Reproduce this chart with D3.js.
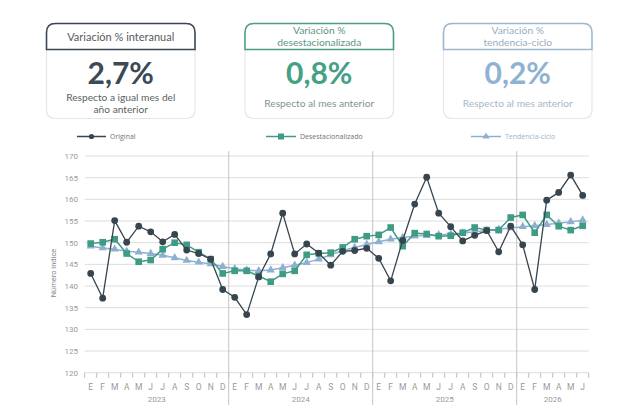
<!DOCTYPE html>
<html><head><meta charset="utf-8">
<script src="https://cdn.jsdelivr.net/npm/d3@7/dist/d3.min.js"></script>
<style>
html,body{margin:0;padding:0;background:#fff;}
svg{display:block;}
</style></head>
<body><svg id="c" width="637" height="418"></svg>
<script>
const monthLabels = ["E","F","M","A","M","J","J","A","S","O","N","D"];
const years = ["2023","2024","2025","2026"];
const monthsPerYear = [12,12,12,6];
const yTicks = [120,125,130,135,140,145,150,155,160,165,170];

const original = [142.9,137.2,155.1,150.1,153.8,152.5,150.2,151.9,148.3,147.5,146.2,139.2,
  137.4,133.4,142.1,147.4,156.8,147.4,149.7,147.6,144.8,148.0,148.2,148.7,
  146.4,141.2,150.5,158.9,165.1,156.8,153.7,150.4,151.7,152.8,147.9,153.8,
  149.5,139.2,159.8,161.6,165.6,160.9];
const desestacionalizado = [149.8,150.1,150.8,147.5,145.6,146.0,148.5,150.0,149.5,147.8,146.2,142.9,
  143.5,143.5,142.3,141.0,142.8,143.5,147.2,147.5,147.7,148.9,150.8,151.5,
  151.8,153.5,149.2,152.2,152.0,151.5,151.6,152.3,153.5,152.9,152.9,155.8,
  156.4,152.3,156.4,153.8,152.9,153.9];
const tendencia = [149.2,148.8,148.5,148.0,147.8,147.5,147.1,146.5,145.9,145.5,145.1,144.5,
  144.0,143.7,143.5,143.7,144.2,144.8,145.4,146.2,147.2,148.2,148.9,149.6,
  150.2,150.8,151.2,151.5,151.7,151.8,152.0,152.2,152.5,152.8,153.1,153.4,
  153.7,153.9,154.2,154.5,154.8,155.2];

const cards = [
  {title:["Variación % interanual"], value:"2,7%", sub:["Respecto a igual mes del","año anterior"]},
  {title:["Variación %","desestacionalizada"], value:"0,8%", sub:["Respecto al mes anterior"]},
  {title:["Variación %","tendencia-ciclo"], value:"0,2%", sub:["Respecto al mes anterior"]}
];
const legendNames = ["Original","Desestacionalizado","Tendencia-ciclo"];

(function(){
const svg = d3.select("#c");
const FONT = "Lato, sans-serif";
const LEGF = "'Open Sans', sans-serif";
const AX = "Roboto, sans-serif";

const idx = [];
const mLab = [];
monthsPerYear.forEach((n,yi)=>{ for(let m=0;m<n;m++){ idx.push(idx.length); mLab.push(monthLabels[m]); }});

const pL = 84.7, pR = 588.7, pT = 156, pB = 372.7;
const x = d3.scaleBand().domain(idx).range([pL,pR]).paddingInner(0).paddingOuter(0);
const y = d3.scaleLinear().domain([120,170]).range([pB,pT]);
const cx = i => x(i) + x.bandwidth()/2;

// ----- cards
const cardX = [46.5, 245, 443.5], cardW = 148.5, cardTop = 23.5, headBot = 49.5, cardBot = 118.5;
const colHead = ["#3b4651","#4b9d86","#9db7cd"];
const colTitle = ["#555b60","#5d9686","#98adc0"];
const colVal = ["#3c4956","#45a086","#8fb2d2"];
const colSub = ["#5a5f63","#7f948d","#a9b7c3"];
cards.forEach((c,k)=>{
  const g = svg.append("g");
  const x0 = cardX[k], x1 = x0+cardW, r=9, mid = x0+cardW/2;
  g.append("path").attr("d",
    `M${x0},${headBot} L${x0},${cardBot-r} Q${x0},${cardBot} ${x0+r},${cardBot} L${x1-r},${cardBot} Q${x1},${cardBot} ${x1},${cardBot-r} L${x1},${headBot}`)
    .attr("fill","none").attr("stroke","#e4e6e8").attr("stroke-width",1.2);
  g.append("path").attr("d",
    `M${x0},${headBot} L${x0},${cardTop+r} Q${x0},${cardTop} ${x0+r},${cardTop} L${x1-r},${cardTop} Q${x1},${cardTop} ${x1},${cardTop+r} L${x1},${headBot} Z`)
    .attr("fill","#fff").attr("stroke",colHead[k]).attr("stroke-width",1.6);
  const two = c.title.length===2;
  const tt = g.append("text").attr("text-anchor","middle").attr("font-family",FONT)
    .attr("font-size",two?10.3:11).attr("fill",colTitle[k])
    .attr("y", two ? 33.8 : 40.5);
  c.title.forEach((t,i)=>tt.append("tspan").attr("x",mid).attr("dy", i===0?0:12.5).text(t));
  g.append("text").attr("x",mid).attr("y",84).attr("text-anchor","middle")
    .attr("font-family",FONT).attr("font-weight",700).attr("font-size",30)
    .attr("fill",colVal[k]).text(c.value);
  const st = g.append("text").attr("text-anchor","middle").attr("font-family",FONT)
    .attr("font-size",10.2).attr("fill",colSub[k])
    .attr("y", c.sub.length===2 ? 100.6 : 106.5);
  c.sub.forEach((t,i)=>st.append("tspan").attr("x",mid).attr("dy", i===0?0:12.4).text(t));
});

// ----- grid
const seriesCol = ["#37454f","#3f9b84","#8eb0d0"];
svg.append("g").selectAll("line").data(yTicks).join("line")
  .attr("x1",pL).attr("x2",pR).attr("y1",d=>y(d)).attr("y2",d=>y(d))
  .attr("stroke","#dddddd").attr("stroke-width",1);
svg.append("g").selectAll("text").data(yTicks).join("text")
  .attr("x",78).attr("y",d=>y(d)+3).attr("text-anchor","end")
  .attr("font-family",AX).attr("font-size",8).attr("fill","#9a9a9a").text(d=>d);
svg.append("text").attr("transform","translate(56,273) rotate(-90)")
  .attr("text-anchor","middle").attr("font-family",AX).attr("font-size",7.5)
  .attr("fill","#8a8a8a").text("Número índice");

const bounds = idx.map(i=>x(i)).concat([pR]);
svg.append("g").selectAll("line").data(bounds).join("line")
  .attr("x1",d=>d).attr("x2",d=>d).attr("y1",pB).attr("y2",pB+5)
  .attr("stroke","#bdbdbd").attr("stroke-width",1);
let acc=0; const sepIdx=[]; const yearMid=[];
monthsPerYear.forEach((n,k)=>{ yearMid.push((x(acc)+ (acc+n<idx.length ? x(acc+n) : pR))/2); acc+=n; if(k<monthsPerYear.length-1) sepIdx.push(acc); });
svg.append("g").selectAll("line").data(sepIdx).join("line")
  .attr("x1",d=>x(d)).attr("x2",d=>x(d)).attr("y1",151).attr("y2",405)
  .attr("stroke","#c4c4c4").attr("stroke-width",1);
svg.append("g").selectAll("text").data(idx).join("text")
  .attr("x",d=>cx(d)).attr("y",390).attr("text-anchor","middle")
  .attr("font-family",AX).attr("font-size",8.5).attr("fill","#9a9a9a").text(d=>mLab[d]);
svg.append("g").selectAll("text").data(years).join("text")
  .attr("x",(d,i)=>yearMid[i]).attr("y",402).attr("text-anchor","middle")
  .attr("font-family",AX).attr("font-size",8).attr("fill","#9a9a9a").text(d=>d);

// ----- series
const line = d3.line().x((d,i)=>cx(i)).y(d=>y(d));
const tri = d3.symbol().type(d3.symbolTriangle).size(30);
const sq = d3.symbol().type(d3.symbolSquare).size(44);
svg.append("path").datum(tendencia).attr("d",line).attr("fill","none")
  .attr("stroke",seriesCol[2]).attr("stroke-width",1.5);
svg.append("g").selectAll("path").data(tendencia).join("path")
  .attr("d",tri).attr("transform",(d,i)=>`translate(${cx(i)},${y(d)})`).attr("fill",seriesCol[2]);
svg.append("path").datum(desestacionalizado).attr("d",line).attr("fill","none")
  .attr("stroke",seriesCol[1]).attr("stroke-width",1.5);
svg.append("g").selectAll("path").data(desestacionalizado).join("path")
  .attr("d",sq).attr("transform",(d,i)=>`translate(${cx(i)},${y(d)})`).attr("fill",seriesCol[1]);
svg.append("path").datum(original).attr("d",line).attr("fill","none")
  .attr("stroke",seriesCol[0]).attr("stroke-width",1.3);
svg.append("g").selectAll("circle").data(original).join("circle")
  .attr("cx",(d,i)=>cx(i)).attr("cy",d=>y(d)).attr("r",3.4).attr("fill",seriesCol[0]);

// ----- legend
const leg = [
  {x1:77,x2:106,tx:110,sym:"c"},
  {x1:266,x2:296,tx:300,sym:"s"},
  {x1:471,x2:501,tx:505,sym:"t"}
];
const legTxt = ["#6d7378","#6d7378","#a3b4c4"];
leg.forEach((l,k)=>{
  const ly = 136.5;
  svg.append("line").attr("x1",l.x1).attr("x2",l.x2).attr("y1",ly).attr("y2",ly)
    .attr("stroke",seriesCol[k]).attr("stroke-width",1.5);
  const mx=(l.x1+l.x2)/2;
  if(l.sym==="c") svg.append("circle").attr("cx",mx).attr("cy",ly).attr("r",2.6).attr("fill",seriesCol[k]);
  if(l.sym==="s") svg.append("path").attr("d",d3.symbol().type(d3.symbolSquare).size(36)).attr("transform",`translate(${mx},${ly})`).attr("fill",seriesCol[k]);
  if(l.sym==="t") svg.append("path").attr("d",d3.symbol().type(d3.symbolTriangle).size(22)).attr("transform",`translate(${mx},${ly})`).attr("fill",seriesCol[k]);
  svg.append("text").attr("x",l.tx).attr("y",ly+2.5).attr("font-family",LEGF).attr("font-size",7)
    .attr("fill",legTxt[k]).text(legendNames[k]);
});
})();
</script></body></html>
